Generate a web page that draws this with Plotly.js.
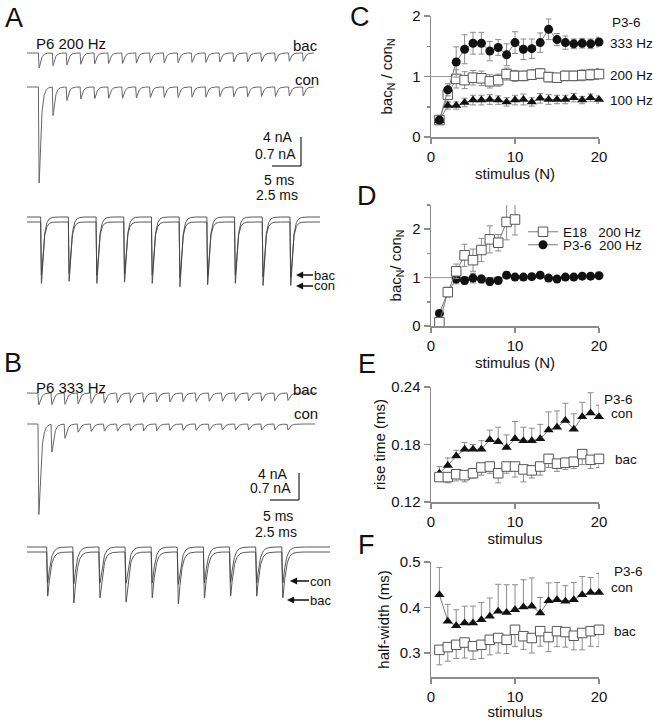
<!DOCTYPE html>
<html><head><meta charset="utf-8">
<script src="https://cdn.plot.ly/plotly-3.0.1.min.js"></script>
<style>html,body{margin:0;padding:0;background:#fff}#chart{width:654px;height:720px}</style>
</head><body><div id="chart"></div>
<script>
// ================= DATA =================
const stimulus = [1,2,3,4,5,6,7,8,9,10,11,12,13,14,15,16,17,18,19,20];
const stimulusE18 = [1,2,3,4,5,6,7,8,9,10];

// Panel C : bac_N / con_N, P3-6
const c333Hz    = [0.28,0.78,1.24,1.45,1.55,1.55,1.42,1.48,1.36,1.56,1.45,1.46,1.56,1.78,1.61,1.56,1.54,1.55,1.54,1.57];
const c333HzErr = [0.05,0.10,0.25,0.24,0.18,0.18,0.16,0.13,0.18,0.18,0.17,0.16,0.16,0.17,0.10,0.11,0.08,0.08,0.08,0.08];
const c200Hz    = [0.28,0.70,0.96,0.94,0.98,0.97,0.92,0.94,1.04,1.01,1.01,1.03,1.05,0.99,0.98,1.01,1.01,1.02,1.03,1.04];
const c200HzErr = [0.05,0.12,0.15,0.14,0.12,0.12,0.11,0.10,0.10,0.09,0.08,0.08,0.08,0.08,0.07,0.08,0.08,0.09,0.09,0.09];
const c100Hz    = [0.27,0.52,0.52,0.57,0.61,0.61,0.62,0.61,0.58,0.61,0.62,0.58,0.64,0.62,0.62,0.62,0.65,0.61,0.65,0.62];
const c100HzErr = [0.04,0.06,0.06,0.07,0.08,0.08,0.08,0.07,0.07,0.08,0.09,0.07,0.08,0.08,0.07,0.07,0.07,0.06,0.06,0.06];

// Panel D : 200 Hz, E18 vs P3-6
const dE18     = [0.08,0.70,1.13,1.46,1.36,1.57,1.79,1.72,2.15,2.20];
const dE18Err  = [0.05,0.10,0.15,0.23,0.23,0.24,0.28,0.17,0.37,0.32];
const dP36     = [0.26,0.70,0.97,0.94,0.99,0.97,0.92,0.94,1.05,1.01,1.01,1.02,1.05,0.99,0.97,1.01,1.01,1.03,1.03,1.04];
const dP36Err  = [0.04,0.08,0.10,0.08,0.10,0.08,0.08,0.07,0.07,0.06,0.05,0.05,0.05,0.05,0.05,0.05,0.05,0.06,0.06,0.07];

// Panel E : rise time (ms)
const eCon    = [0.150,0.158,0.168,0.175,0.175,0.175,0.185,0.183,0.177,0.186,0.184,0.184,0.186,0.195,0.198,0.205,0.196,0.209,0.213,0.209];
const eConErr = [0.007,0.008,0.006,0.007,0.005,0.009,0.010,0.015,0.013,0.018,0.014,0.013,0.015,0.019,0.017,0.018,0.016,0.015,0.021,0.012];
const eBac    = [0.146,0.146,0.149,0.148,0.150,0.156,0.157,0.150,0.157,0.157,0.154,0.153,0.157,0.165,0.160,0.161,0.162,0.170,0.164,0.165];
const eBacErr = [0.004,0.006,0.007,0.007,0.005,0.008,0.007,0.010,0.007,0.011,0.013,0.008,0.009,0.009,0.008,0.007,0.007,0.011,0.009,0.009];

// Panel F : half-width (ms)
const fCon    = [0.428,0.370,0.360,0.366,0.366,0.373,0.381,0.392,0.389,0.395,0.401,0.403,0.388,0.415,0.417,0.414,0.417,0.428,0.433,0.433];
const fConErr = [0.060,0.037,0.035,0.037,0.037,0.038,0.040,0.059,0.061,0.055,0.060,0.062,0.034,0.039,0.038,0.034,0.038,0.040,0.033,0.042];
const fBac    = [0.307,0.313,0.318,0.323,0.315,0.318,0.329,0.333,0.329,0.351,0.337,0.333,0.348,0.335,0.348,0.346,0.338,0.344,0.348,0.351];
const fBacErr = [0.033,0.031,0.030,0.034,0.029,0.030,0.033,0.033,0.030,0.037,0.029,0.033,0.033,0.032,0.034,0.033,0.031,0.037,0.033,0.037];
const noErr   = [0,0,0,0,0,0,0,0,0,0,0,0,0,0,0,0,0,0,0,0];

// tick labels
const xTicks = [0,10,20];
const cTicks = [0,1,2];
const dTicks = [0,1,2];
const eTicks = [0.12,0.18,0.24];
const eTickText = ['0.12','0.18','0.24'];
const fTicks = [0.3,0.4,0.5];
const fTickText = ['0.3','0.4','0.5'];

// Panels A/B : EPSC peak amplitudes (nA)
const freqA = 200, freqB = 333;
const aBacTrain = [2.0,1.7,1.6,1.5,1.45,1.4,1.4,1.35,1.3,1.3,1.3,1.25,1.25,1.2,1.2,1.2,1.15,1.15,1.1,1.1];
const aConTrain = [12.8,3.8,1.8,1.6,1.55,1.5,1.5,1.45,1.4,1.4,1.4,1.35,1.35,1.3,1.3,1.3,1.25,1.25,1.2,1.2];
const aBacZoom  = [1.24,1.20,1.24,1.22,1.24,1.30,1.27,1.24,1.28,1.28];
const aConZoom  = [1.55,1.50,1.55,1.52,1.55,1.63,1.58,1.55,1.60,1.60];
const bBacTrain = [1.6,1.55,1.5,1.45,1.4,1.35,1.3,1.3,1.25,1.2,1.2,1.15,1.15,1.1,1.1,1.1,1.05,1.05,1.05,1.0];
const bConTrain = [12.1,3.7,1.9,1.1,1.0,0.95,0.95,0.9,0.9,0.9,0.85,0.85,0.85,0.85,0.8,0.8,0.8,0.8,0.8,0.8];
const bBacZoom  = [1.03,1.19,1.07,1.17,1.07,1.21,1.07,1.03,1.03,1.07];
const bConZoom  = [0.84,0.86,0.84,0.85,0.84,0.87,0.84,0.83,0.84,0.84];

// ================= HELPERS =================
const W = 654, H = 720;
const FONT = 'Liberation Sans, Arial, Helvetica, sans-serif';
const PX = v => v / W;
const PY = v => 1 - v / H;
const AX = '#8c8c8c';

function kernelPeak(tr, td){
  const tp = tr*td/(td-tr)*Math.log(td/tr);
  return Math.exp(-tp/td) - Math.exp(-tp/tr);
}
// synthesise a current trace from read peak amplitudes (inward = negative)
function buildTrace(amps, freq, tStart, tEnd, dt, tr, td){
  const interval = 1000/freq, norm = kernelPeak(tr, td);
  const n = Math.round((tEnd - tStart)/dt);
  const t = [], y = [];
  for (let k = 0; k <= n; k++){
    const s = tStart + k*dt; let v = 0;
    for (let i = 0; i < amps.length; i++){
      const u = s - i*interval;
      if (u > 0) v -= amps[i]*(Math.exp(-u/td) - Math.exp(-u/tr))/norm;
    }
    t.push(s); y.push(v);
  }
  return {t, y};
}
function timeAxis(x0px, pxPerMs, anchor){
  return {domain:[0, 370/W], range:[-x0px/pxPerMs, (370 - x0px)/pxPerMs], visible:false, anchor};
}
function currentAxis(basePx, pxPerNA, anchor){
  return {domain:[0,1], range:[(basePx - H)/pxPerNA, basePx/pxPerNA], visible:false, anchor};
}
const traces = [];
function addEphys(amps, freq, x0px, pxPerMs, xEndPx, dt, tr, td, xa, ya, color, width){
  const tS = (27 - x0px)/pxPerMs;
  const tE = (xEndPx - x0px)/pxPerMs;
  const r = buildTrace(amps, freq, tS, tE, dt, tr, td);
  traces.push({type:'scatter', mode:'lines', x:r.t, y:r.y, xaxis:xa, yaxis:ya,
    line:{color:color, width:width||1}, hoverinfo:'skip', showlegend:false});
}

// ================= LEFT PANELS =================
const kTrain = 7.5, kZoom = 42.86;
// A
addEphys(aBacTrain, freqA, 38.5, 2.78, 314, 0.04, 0.1, 0.7, 'x5', 'y5', '#666');
addEphys(aConTrain, freqA, 38.5, 2.78, 314, 0.04, 0.1, 0.7, 'x5', 'y6', '#666');
addEphys(aConZoom,  freqA, 40.7, 5.54, 320, 0.01, 0.06, 0.38, 'x6', 'y7', '#444', 0.9);
addEphys(aBacZoom,  freqA, 40.7, 5.54, 320, 0.01, 0.06, 0.38, 'x6', 'y8', '#444', 0.9);
// B
addEphys(bBacTrain, freqB, 38, 4.367, 315, 0.02, 0.08, 0.5, 'x7', 'y9', '#666');
addEphys(bConTrain, freqB, 38, 4.367, 315, 0.02, 0.08, 0.5, 'x7', 'y10', '#666');
addEphys(bConZoom,  freqB, 46.7, 8.7, 330, 0.01, 0.05, 0.32, 'x8', 'y11', '#444', 0.9);
addEphys(bBacZoom,  freqB, 46.7, 8.7, 330, 0.01, 0.05, 0.32, 'x8', 'y12', '#444', 0.9);

// ================= RIGHT PANELS =================
const mkCircle = {symbol:'circle', size:9, color:'#111', line:{width:0}};
const mkSquare = {symbol:'square', size:9.5, color:'#fff', line:{color:'#555', width:1}};
const mkTri    = {symbol:'triangle-up', size:9, color:'#111', line:{width:0}};
const lineSty  = {color:'#7a7a7a', width:1};
function err(plus, minus){
  return minus ? {type:'data', array:plus, arrayminus:minus, symmetric:false, color:'#8c8c8c', thickness:1, width:3}
               : {type:'data', array:plus, symmetric:true, color:'#8c8c8c', thickness:1, width:3};
}
function series(x, y, e, marker, xa, ya, name, legend){
  const o = {type:'scatter', mode:'lines+markers', x, y, error_y:e, marker, line:lineSty,
    xaxis:xa, yaxis:ya, cliponaxis:false, hoverinfo:'skip', name:name||'', showlegend:!!legend};
  if (legend) o.legend = legend;
  return o;
}
// C
traces.push(series(stimulus, c200Hz, err(c200HzErr), mkSquare, 'x', 'y'));
traces.push(series(stimulus, c100Hz, err(c100HzErr), mkTri, 'x', 'y'));
traces.push(series(stimulus, c333Hz, err(c333HzErr), mkCircle, 'x', 'y'));
// D
traces.push(series(stimulus, dP36, err(dP36Err), mkCircle, 'x2', 'y2', 'P3-6\u00a0\u00a0200 Hz', 'legend2'));
traces.push(series(stimulusE18, dE18, err(dE18Err), mkSquare, 'x2', 'y2', 'E18\u00a0\u00a0\u00a0200 Hz', 'legend'));
// E
traces.push(series(stimulus, eCon, err(eConErr, noErr), mkTri, 'x3', 'y3'));
traces.push(series(stimulus, eBac, err(noErr, eBacErr), mkSquare, 'x3', 'y3'));
// F
traces.push(series(stimulus, fCon, err(fConErr, noErr), mkTri, 'x4', 'y4'));
traces.push(series(stimulus, fBac, err(noErr, fBacErr), mkSquare, 'x4', 'y4'));

const xDom = [431/W, 599/W];
function xAx(anchor, titleText){
  return {domain:xDom, range:[0,20], anchor, showline:true, linecolor:AX, linewidth:1.5,
    ticks:'outside', ticklen:5, tickwidth:1.5, tickcolor:AX, tickvals:xTicks, showgrid:false, zeroline:false,
    tickfont:{size:15, color:'#111'}, title:{text:titleText, font:{size:15, color:'#111'}, standoff:4}};
}
function yAx(anchor, botPx, topPx, range, tv, tt, title, standoff, minorDtick){
  const o = {domain:[PY(botPx), PY(topPx)], range, anchor, showline:true, linecolor:AX, linewidth:1.5,
    ticks:'outside', ticklen:6, tickwidth:1.5, tickcolor:AX, tickvals:tv, showgrid:false, zeroline:false,
    tickfont:{size:15, color:'#111'}, title:{text:title, font:{size:15, color:'#111'}, standoff}};
  if (tt) o.ticktext = tt;
  if (minorDtick) o.minor = {tick0:0, dtick:minorDtick, ticks:'outside', ticklen:3, tickwidth:1.5, tickcolor:AX, showgrid:false};
  return o;
}

// ================= ANNOTATIONS =================
const ann = [];
function txt(text, x, y, size, xanchor){
  ann.push({text, x:PX(x), y:PY(y), xref:'paper', yref:'paper', showarrow:false, borderpad:0,
    xanchor:xanchor||'center', yanchor:'middle', font:{size, color:'#111', family:FONT}});
}
function arrowTxt(text, tipX, y, textLeft){
  ann.push({text, x:PX(tipX), y:PY(y), xref:'paper', yref:'paper', showarrow:true, borderpad:0,
    ax:(textLeft - tipX) + 10, ay:0, arrowhead:2, arrowsize:1.1, arrowwidth:1.3, arrowcolor:'#111',
    standoff:0, font:{size:13, color:'#111', family:FONT}});
}
// panel letters
txt('A', 14, 18, 27); txt('B', 13, 363, 27);
txt('C', 360, 17, 27); txt('D', 367, 196, 27); txt('E', 367, 364, 27); txt('F', 366, 545, 27);
// A
txt('P6 200 Hz', 35, 43, 15, 'left');
txt('bac', 319, 45, 15, 'right');
txt('con', 320, 79, 15, 'right');
txt('4 nA', 277, 137, 14); txt('0.7 nA', 275, 154, 14);
txt('5 ms', 279, 180, 14); txt('2.5 ms', 277, 195, 14);
arrowTxt('bac', 296, 275, 314);
arrowTxt('con', 296, 286, 314);
// B
txt('P6 333 Hz', 35, 387, 15, 'left');
txt('bac', 319, 389, 15, 'right');
txt('con', 319, 413, 15, 'right');
txt('4 nA', 272, 474, 14); txt('0.7 nA', 270, 488, 14);
txt('5 ms', 278, 516, 14); txt('2.5 ms', 276, 532, 14);
arrowTxt('con', 290, 581, 310);
arrowTxt('bac', 287, 600, 310);
// C
txt('P3-6', 611, 22, 13.5, 'left');
txt('333 Hz', 609, 43, 13.5, 'left');
txt('200 Hz', 609, 76, 13.5, 'left');
txt('100 Hz', 609, 101, 13.5, 'left');
// E
txt('P3-6', 634, 399, 13.5, 'right');
txt('con', 634, 414, 13.5, 'right');
txt('bac', 614, 460, 13.5, 'left');
// F
txt('P3-6', 613, 571, 13.5, 'left');
txt('con', 634, 587, 13.5, 'right');
txt('bac', 613, 631, 13.5, 'left');

// scale bars & reference lines
const SB = {color:'#222', width:1.2};
const shapes = [
  {type:'line', xref:'paper', yref:'paper', x0:PX(301), x1:PX(301), y0:PY(137), y1:PY(166), line:SB},
  {type:'line', xref:'paper', yref:'paper', x0:PX(272), x1:PX(301), y0:PY(166), y1:PY(166), line:SB},
  {type:'line', xref:'paper', yref:'paper', x0:PX(299), x1:PX(299), y0:PY(473), y1:PY(500), line:SB},
  {type:'line', xref:'paper', yref:'paper', x0:PX(270), x1:PX(299), y0:PY(500), y1:PY(500), line:SB},
  {type:'line', xref:'x', yref:'y', x0:0, x1:20, y0:1, y1:1, line:{color:'#999', width:1}, layer:'below'},
  {type:'line', xref:'x2', yref:'y2', x0:0, x1:20, y0:1, y1:1, line:{color:'#999', width:1}, layer:'below'}
];

const legendBase = {xanchor:'left', yanchor:'middle', bgcolor:'rgba(0,0,0,0)', borderwidth:0,
  font:{size:13.5, color:'#111', family:FONT}, itemwidth:30, tracegroupgap:0};

const layout = {
  width:W, height:H, margin:{l:0, r:0, t:0, b:0},
  paper_bgcolor:'#fff', plot_bgcolor:'rgba(0,0,0,0)',
  font:{family:FONT, color:'#111'},
  showlegend:true,
  legend:Object.assign({x:PX(523), y:PY(232)}, legendBase),
  legend2:Object.assign({x:PX(523), y:PY(245)}, legendBase),
  xaxis:xAx('y', 'stimulus (N)'),
  yaxis:yAx('x', 137, 16, [0,2], cTicks, null, 'bac<sub>N</sub> / con<sub>N</sub>', 16, 0.5),
  xaxis2:xAx('y2', 'stimulus (N)'),
  yaxis2:yAx('x2', 326, 205, [0,2.5], dTicks, null, 'bac<sub>N</sub>/ con<sub>N</sub>', 7, 0.5),
  xaxis3:xAx('y3', 'stimulus'),
  yaxis3:yAx('x3', 502, 387, [0.12,0.24], eTicks, eTickText, 'rise time (ms)', 2),
  xaxis4:xAx('y4', 'stimulus'),
  yaxis4:yAx('x4', 677, 562, [0.2473,0.5], fTicks, fTickText, 'half-width (ms)', 6),
  xaxis5:timeAxis(38.5, 2.78, 'y5'),
  xaxis6:timeAxis(40.7, 5.54, 'y7'),
  xaxis7:timeAxis(38, 4.367, 'y9'),
  xaxis8:timeAxis(46.7, 8.7, 'y11'),
  yaxis5:currentAxis(53, kTrain, 'x5'),
  yaxis6:currentAxis(87, kTrain, 'x5'),
  yaxis7:currentAxis(217, kZoom, 'x6'),
  yaxis8:currentAxis(222, kZoom, 'x6'),
  yaxis9:currentAxis(393, kTrain, 'x7'),
  yaxis10:currentAxis(424, kTrain, 'x7'),
  yaxis11:currentAxis(547, kZoom, 'x8'),
  yaxis12:currentAxis(552, kZoom, 'x8'),
  annotations:ann,
  shapes
};
Plotly.newPlot('chart', traces, layout, {staticPlot:true, displayModeBar:false});
</script>
</body></html>
